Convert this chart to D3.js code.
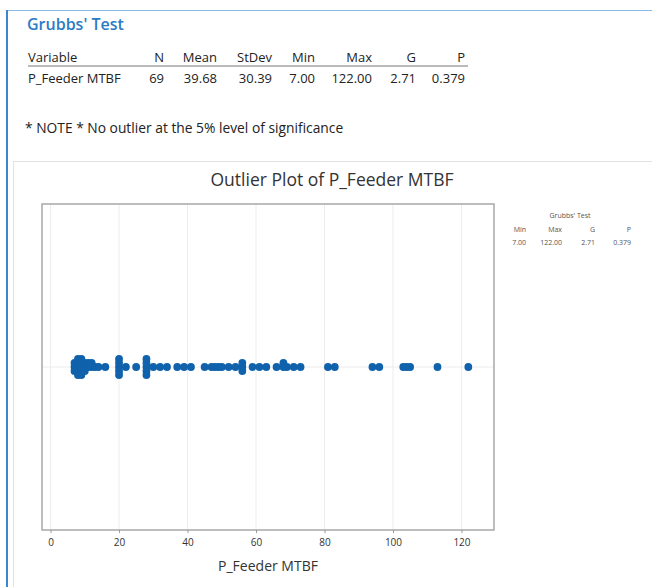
<!DOCTYPE html>
<html><head><meta charset="utf-8">
<script src="https://cdn.jsdelivr.net/npm/d3@7"></script>
<style>
html,body{margin:0;padding:0;background:#fff;}
svg{display:block;}
text{font-family:"Open Sans","Noto Sans",sans-serif;}
</style></head>
<body>
<svg id="c" width="652" height="587"></svg>
<script>
// ---- data ----
const variableName = "P_Feeder MTBF";
const tableHeaders = ["Variable","N","Mean","StDev","Min","Max","G","P"];
const tableRow = ["P_Feeder MTBF","69","39.68","30.39","7.00","122.00","2.71","0.379"];
const legendHeaders = ["Min","Max","G","P"];
const legendRow = ["7.00","122.00","2.71","0.379"];
const xTicks = [0,20,40,60,80,100,120];
const values = [
  7,7,7, 8,8,8,8,8, 9,9,9,9,9, 10,10,10, 11,11, 12,12,
  13,14,16,
  20,20,20,20,20,
  22,25,
  28,28,28,28,28,
  30,32,34,
  37,39,41,
  45,47,48,49,50,
  52,54,
  56,56,56,
  59,61,63,
  66,68,68,69,71,73,
  81,83,
  94,96,
  103,104,105,
  113,122
];

const svg = d3.select("#c");
const blue = "#2b7bc4";

// outer container borders
svg.append("line").attr("x1",6).attr("x2",652).attr("y1",10.5).attr("y2",10.5)
  .attr("stroke","#8ab8e6").attr("stroke-width",1);
svg.append("line").attr("x1",7).attr("x2",7).attr("y1",10).attr("y2",587)
  .attr("stroke","#3a86d0").attr("stroke-width",2);

// title
svg.append("text").attr("x",27).attr("y",30).text("Grubbs' Test")
  .attr("font-size",16).attr("font-weight",600).attr("fill",blue);

// table
const colRight = [null,164,217,272,315,372,416,465];
tableHeaders.forEach((h,i)=>{
  svg.append("text").attr("x", i===0?28:colRight[i]).attr("y",62)
    .attr("text-anchor", i===0?"start":"end").attr("font-size",13).attr("fill","#222").text(h);
});
svg.append("line").attr("x1",28).attr("x2",468).attr("y1",66).attr("y2",66)
  .attr("stroke","#777").attr("stroke-width",1);
tableRow.forEach((h,i)=>{
  svg.append("text").attr("x", i===0?28:colRight[i]).attr("y",83)
    .attr("text-anchor", i===0?"start":"end").attr("font-size",13).attr("fill","#222").text(h);
});
svg.append("text").attr("x",25).attr("y",133).attr("font-size",13.8).attr("fill","#222")
  .text("* NOTE * No outlier at the 5% level of significance");

// chart panel
svg.append("rect").attr("x",13.5).attr("y",161.5).attr("width",650).attr("height",440)
  .attr("fill","#fff").attr("stroke","#e2e2e2").attr("stroke-width",1);

svg.append("text").attr("x",332).attr("y",186).attr("text-anchor","middle")
  .attr("font-size",17.5).attr("fill","#333").text("Outlier Plot of " + variableName);

const fx0=42, fx1=494, fy0=204, fy1=530;
const x = d3.scaleLinear().domain([-2.5,129.5]).range([fx0,fx1]);
const cy = (fy0+fy1)/2;

// gridlines
svg.append("g").selectAll("line").data(xTicks).join("line")
  .attr("x1",d=>x(d)).attr("x2",d=>x(d)).attr("y1",fy0).attr("y2",fy1)
  .attr("stroke","#ececec").attr("stroke-width",1);
svg.append("line").attr("x1",fx0).attr("x2",fx1).attr("y1",cy).attr("y2",cy)
  .attr("stroke","#ececec").attr("stroke-width",1);

// frame
svg.append("rect").attr("x",fx0).attr("y",fy0).attr("width",fx1-fx0).attr("height",fy1-fy0)
  .attr("fill","none").attr("stroke","#a8a8a8").attr("stroke-width",1.5);

// axis
const axis = d3.axisBottom(x).tickValues(xTicks).tickSize(3).tickPadding(6);
const ag = svg.append("g").attr("transform",`translate(0,${fy1})`).call(axis);
ag.select(".domain").remove();
ag.selectAll("line").attr("stroke","#999");
ag.selectAll("text").attr("font-size",10).attr("fill","#333")
  .attr("font-family","'Open Sans','Noto Sans',sans-serif");

svg.append("text").attr("x",(fx0+fx1)/2).attr("y",571).attr("text-anchor","middle")
  .attr("font-size",14).attr("fill","#333").text(variableName);

// points: stack duplicates vertically, alternating
const counts = {};
const pts = values.map(v=>{
  const k = counts[v] || 0; counts[v] = k+1;
  const off = k===0 ? 0 : Math.ceil(k/2) * (k%2===1 ? -1 : 1) * 4;
  return {v, off};
});
svg.append("g").selectAll("circle").data(pts).join("circle")
  .attr("cx",d=>x(d.v)).attr("cy",d=>cy+d.off).attr("r",3.9)
  .attr("fill","#0f62ab");

// legend box (right)
svg.append("text").attr("x",570).attr("y",218).attr("text-anchor","middle")
  .attr("font-size",7).attr("fill","#555").text("Grubbs' Test");
const legRight = [526,562,595,631];
legendHeaders.forEach((h,i)=>{
  svg.append("text").attr("x",legRight[i]).attr("y",232).attr("text-anchor","end")
    .attr("font-size",7).attr("fill","#555").text(h);
});
legendRow.forEach((h,i)=>{
  svg.append("text").attr("x",legRight[i]).attr("y",245).attr("text-anchor","end")
    .attr("font-size",7).attr("fill","#555").text(h);
});
</script>
</body></html>
